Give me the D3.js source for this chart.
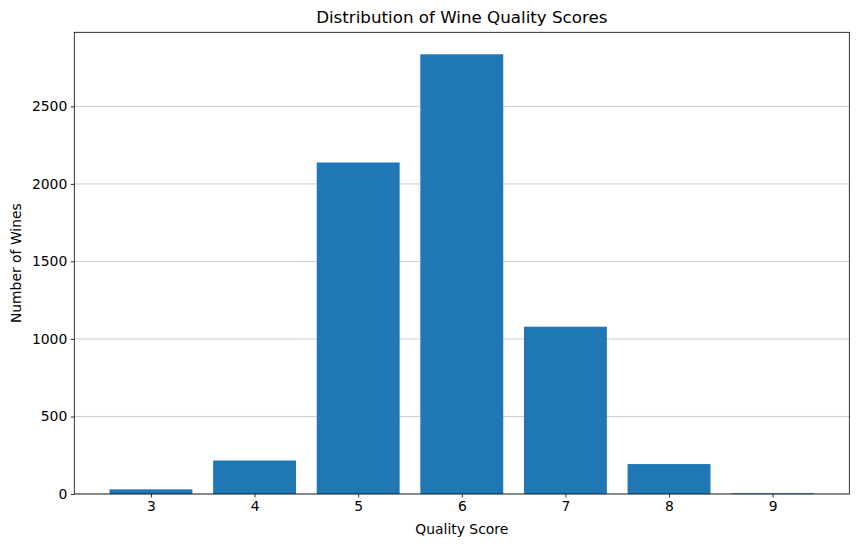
<!DOCTYPE html>
<html>
<head>
<meta charset="utf-8">
<script src="https://cdn.jsdelivr.net/npm/d3@7"></script>
<style>
  body { margin: 0; background: #fff; }
  svg { font-family: "DejaVu Sans", sans-serif; }
</style>
</head>
<body>
<svg id="chart" width="859" height="547"></svg>
<script>
// wine quality counts
const qualityScores = [3, 4, 5, 6, 7, 8, 9];
const wineCounts = [30, 216, 2138, 2836, 1079, 193, 5];
const yTicks = [0, 500, 1000, 1500, 2000, 2500];

const svg = d3.select("#chart");
const plotLeft = 74.3, plotRight = 849.3, plotTop = 32.3, plotBottom = 494;

const x = d3.scaleLinear().domain([2.26, 9.74]).range([plotLeft, plotRight]);
const y = d3.scaleLinear().domain([0, 2836 * 1.05]).range([plotBottom, plotTop]);

// gridlines
svg.append("g").selectAll("line")
    .data(yTicks)
    .join("line")
    .attr("x1", plotLeft).attr("x2", plotRight)
    .attr("y1", d => y(d)).attr("y2", d => y(d))
    .attr("stroke", "#b0b0b0").attr("stroke-opacity", 0.8).attr("stroke-width", 0.8);

// bars
svg.append("g").selectAll("rect")
    .data(qualityScores)
    .join("rect")
    .attr("x", d => x(d - 0.4))
    .attr("width", d => x(d + 0.4) - x(d - 0.4))
    .attr("y", (d, i) => y(wineCounts[i]))
    .attr("height", (d, i) => plotBottom - y(wineCounts[i]))
    .attr("fill", "#1f77b4");

// axes
const xAxis = svg.append("g")
    .attr("transform", `translate(0,${plotBottom})`)
    .call(d3.axisBottom(x).tickValues(qualityScores).tickSize(3.5).tickPadding(3.5).tickFormat(d3.format("d")));
const yAxis = svg.append("g")
    .attr("transform", `translate(${plotLeft},0)`)
    .call(d3.axisLeft(y).tickValues(yTicks).tickSize(3.5).tickPadding(3.5).tickFormat(d3.format("d")));

[xAxis, yAxis].forEach(a => {
    a.select(".domain").remove();
    a.selectAll("text").attr("font-size", "13.9px").attr("fill", "#000").attr("font-family", "DejaVu Sans, sans-serif");
    a.selectAll("line").attr("stroke", "#000").attr("stroke-width", 0.8);
});

// frame
svg.append("rect")
    .attr("x", plotLeft).attr("y", plotTop)
    .attr("width", plotRight - plotLeft).attr("height", plotBottom - plotTop)
    .attr("fill", "none").attr("stroke", "#000").attr("stroke-width", 0.8);

// labels
svg.append("text")
    .attr("x", (plotLeft + plotRight) / 2).attr("y", 23)
    .attr("text-anchor", "middle").attr("font-size", "16.7px")
    .text("Distribution of Wine Quality Scores");
svg.append("text")
    .attr("x", (plotLeft + plotRight) / 2).attr("y", 534)
    .attr("text-anchor", "middle").attr("font-size", "13.9px")
    .text("Quality Score");
svg.append("text")
    .attr("transform", `translate(21,${(plotTop + plotBottom) / 2}) rotate(-90)`)
    .attr("text-anchor", "middle").attr("font-size", "13.9px")
    .text("Number of Wines");
</script>
</body>
</html>
